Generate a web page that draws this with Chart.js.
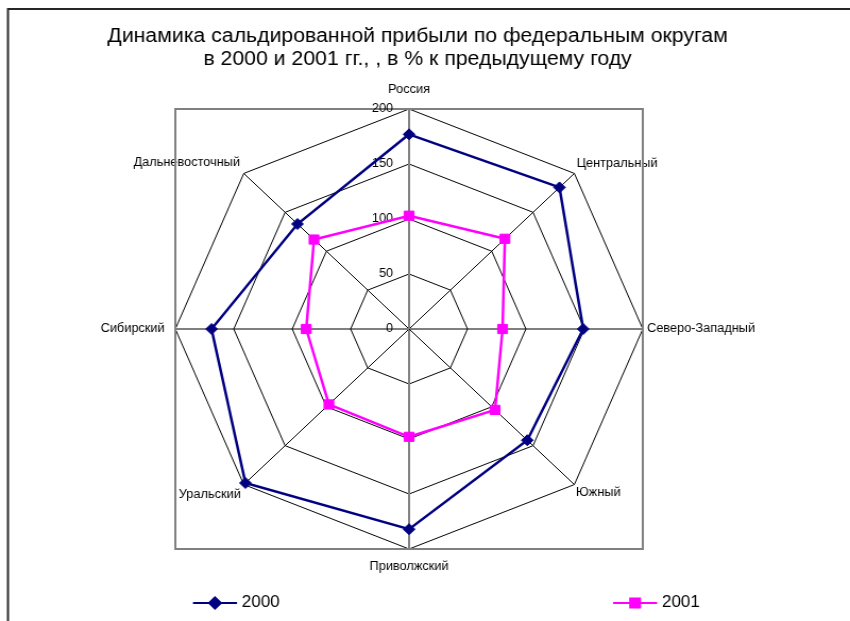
<!DOCTYPE html>
<html lang="ru">
<head>
<meta charset="utf-8">
<title>Динамика сальдированной прибыли</title>
<script src="https://cdn.jsdelivr.net/npm/chart.js@4.4.1/dist/chart.umd.min.js"></script>
<style>
  html, body { margin: 0; padding: 0; background: #fff; overflow: hidden; }
  /* картинка Excel растянута по горизонтали, поэтому и холст тоже */
  #chart { transform: scaleX(1.0625); transform-origin: 0 0; }
</style>
</head>
<body>
<canvas id="chart" width="800" height="621"></canvas>
<script>
// Данные графика
const categories = ['Россия', 'Центральный', 'Северо-Западный', 'Южный', 'Приволжский', 'Уральский', 'Сибирский', 'Дальневосточный'];
const values2000 = [177, 182, 149, 143, 182, 198, 169, 135];
const values2001 = [103, 116, 80, 104, 98, 97, 88, 115];
const seriesNames = ['2000', '2001'];
const tickValues = [0, 50, 100, 150, 200];
const titleLines = ['Динамика сальдированной прибыли по федеральным округам', 'в 2000 и 2001 гг., , в % к предыдущему году'];

const FONT = '"Liberation Sans", Arial, sans-serif';
const labelPadding = [12.6, 3, 4, 2, 10, 4, 10, 5];

// Рамка, заголовок, подписи шкалы и легенда
const decorPlugin = {
    id: 'decor',
    beforeDraw(chart) {
        const ctx = chart.ctx;
        ctx.save();
        ctx.strokeStyle = '#262626';
        ctx.lineWidth = 2;
        ctx.beginPath();
        ctx.moveTo(7.5, 700);
        ctx.lineTo(7.5, 9);
        ctx.lineTo(900, 9);
        ctx.stroke();

        ctx.fillStyle = '#000';
        ctx.font = '20px ' + FONT;
        ctx.textAlign = 'center';
        ctx.textBaseline = 'alphabetic';
        ctx.fillText(titleLines[0], 393, 42);
        ctx.fillText(titleLines[1], 393, 64.5);
        ctx.restore();
    },
    beforeDatasetsDraw(chart) {
        const ctx = chart.ctx;
        const r = chart.scales.r;
        ctx.save();
        ctx.strokeStyle = '#808080';
        ctx.lineWidth = 2;
        ctx.strokeRect(r.xCenter - r.drawingArea, r.yCenter - r.drawingArea, r.drawingArea * 2, r.drawingArea * 2);

        ctx.fillStyle = '#000';
        ctx.font = '12px ' + FONT;
        ctx.textAlign = 'right';
        ctx.textBaseline = 'middle';
        tickValues.forEach(v => {
            ctx.fillText(String(v), r.xCenter - 15, r.yCenter - r.getDistanceFromCenterForValue(v));
        });
        ctx.restore();
    },
    afterDraw(chart) {
        const ctx = chart.ctx;
        const legendX = [181.6, 577];
        const y = 603;
        ctx.save();
        chart.data.datasets.forEach((ds, i) => {
            const x = legendX[i];
            ctx.strokeStyle = ds.borderColor;
            ctx.lineWidth = 2;
            ctx.beginPath();
            ctx.moveTo(x, y);
            ctx.lineTo(x + 41.5, y);
            ctx.stroke();
            ctx.fillStyle = ds.pointBackgroundColor;
            ctx.strokeStyle = ds.pointBorderColor;
            Chart.helpers.drawPoint(ctx, {
                pointStyle: ds.pointStyle,
                radius: ds.pointRadius,
                rotation: 0,
                borderWidth: ds.pointBorderWidth
            }, x + 20.75, y);
            ctx.fillStyle = '#000';
            ctx.font = '16px ' + FONT;
            ctx.textAlign = 'left';
            ctx.textBaseline = 'middle';
            ctx.fillText(seriesNames[i], x + 46, y);
        });
        ctx.restore();
    }
};

new Chart(document.getElementById('chart'), {
    type: 'radar',
    data: {
        labels: categories,
        datasets: [{
            label: seriesNames[0],
            data: values2000,
            borderColor: '#000080',
            backgroundColor: 'transparent',
            borderWidth: 2.5,
            fill: false,
            pointStyle: 'rectRot',
            pointRadius: 5.5,
            pointBackgroundColor: '#000080',
            pointBorderColor: '#000080',
            pointBorderWidth: 1
        }, {
            label: seriesNames[1],
            data: values2001,
            borderColor: '#ff00ff',
            backgroundColor: 'transparent',
            borderWidth: 2.5,
            fill: false,
            pointStyle: 'rect',
            pointRadius: 6.5,
            pointBackgroundColor: '#ff00ff',
            pointBorderColor: '#ff00ff',
            pointBorderWidth: 1
        }]
    },
    options: {
        responsive: false,
        animation: false,
        devicePixelRatio: 1,
        events: [],
        layout: { padding: { left: 0, right: 30, top: 81, bottom: 46 } },
        plugins: {
            legend: { display: false },
            title: { display: false },
            tooltip: { enabled: false }
        },
        elements: { line: { tension: 0 } },
        scales: {
            r: {
                min: 0,
                max: 200,
                ticks: { stepSize: 50, display: false },
                grid: { color: '#000', lineWidth: 1 },
                angleLines: {
                    color: ctx => (ctx.index === 0 || ctx.index === 4) ? '#808080' : '#000',
                    lineWidth: ctx => (ctx.index === 0 || ctx.index === 4) ? 2 : 1
                },
                pointLabels: {
                    color: '#000',
                    font: { family: FONT, size: 12 },
                    padding: ctx => labelPadding[ctx.index]
                }
            }
        }
    },
    plugins: [decorPlugin]
});
</script>
</body>
</html>
